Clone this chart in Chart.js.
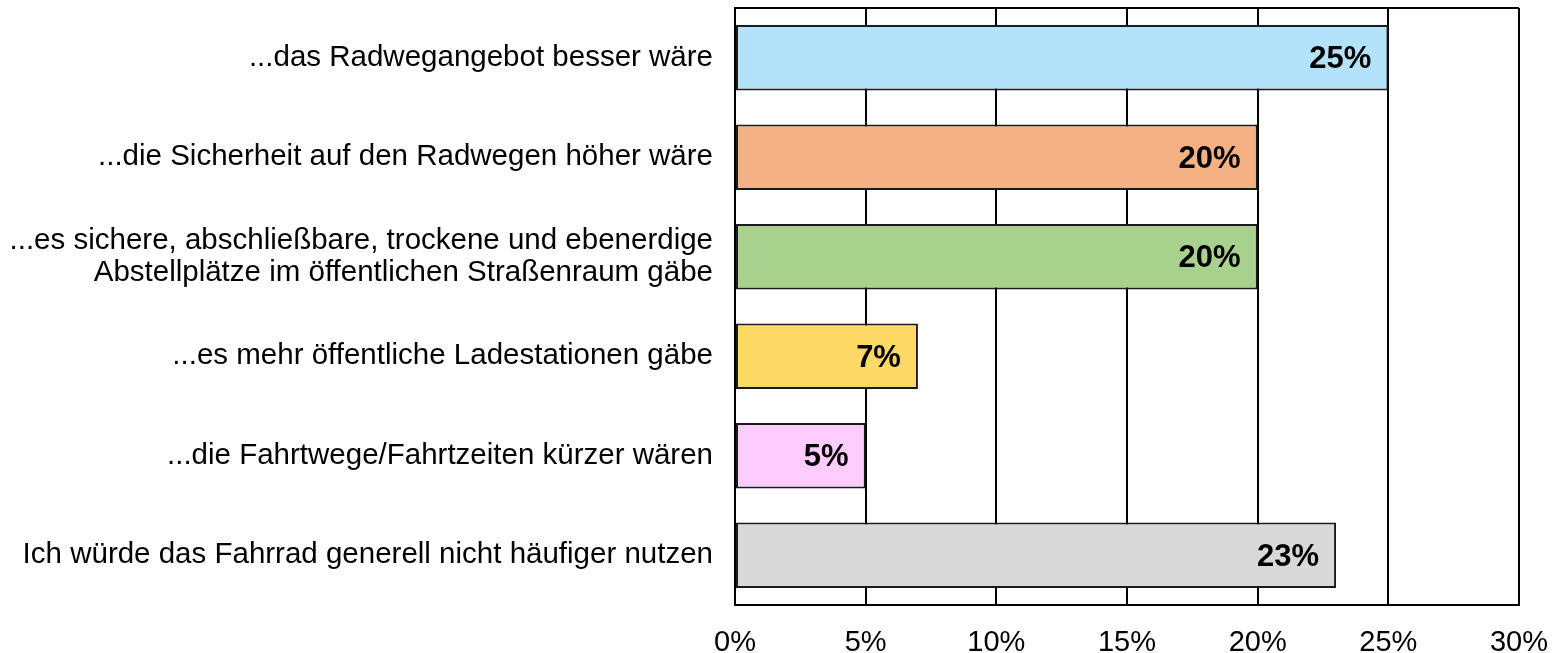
<!DOCTYPE html>
<html lang="de">
<head>
    <meta charset="UTF-8">
    <title>Fahrradnutzung</title>
    <script src="https://cdn.jsdelivr.net/npm/chart.js"></script>
    <style>
        html, body { margin: 0; padding: 0; background: #fff; }
        .chart-container { width: 1552px; height: 653px; }
    </style>
</head>
<body>
    <div class="chart-container">
        <canvas id="myChart"></canvas>
    </div>
    <script>
        const categories = [
            '...das Radwegangebot besser wäre',
            '...die Sicherheit auf den Radwegen höher wäre',
            ['...es sichere, abschließbare, trockene und ebenerdige', 'Abstellplätze im öffentlichen Straßenraum gäbe'],
            '...es mehr öffentliche Ladestationen gäbe',
            '...die Fahrtwege/Fahrtzeiten kürzer wären',
            'Ich würde das Fahrrad generell nicht häufiger nutzen'
        ];
        const values = [25, 20, 20, 7, 5, 23];
        const barColors = ['#B3E3FB', '#F4B183', '#A9D18E', '#FFD966', '#FFCCFF', '#D9D9D9'];
        const xTicks = [0, 5, 10, 15, 20, 25, 30];

        const fontFamily = '"Liberation Sans", Arial, sans-serif';

        // value labels at the inner end of each bar + top frame line
        const barLabels = {
            id: 'barLabels',
            afterDatasetsDraw(chart) {
                const ctx = chart.ctx;
                const meta = chart.getDatasetMeta(0);
                ctx.save();
                ctx.font = 'bold 31px ' + fontFamily;
                ctx.fillStyle = '#000';
                ctx.textAlign = 'right';
                ctx.textBaseline = 'middle';
                meta.data.forEach((bar, i) => {
                    ctx.fillText(values[i] + '%', bar.x - 17, bar.y + 2);
                });
                const a = chart.chartArea;
                ctx.strokeStyle = '#000';
                ctx.lineWidth = 2;
                ctx.beginPath();
                ctx.moveTo(a.left, a.top);
                ctx.lineTo(a.right, a.top);
                ctx.stroke();
                ctx.restore();
            }
        };

        // no extra room for overhanging tick labels
        function noPadding(scale) {
            scale.paddingTop = 0;
            scale.paddingBottom = 0;
            scale.paddingLeft = 0;
            scale.paddingRight = 0;
        }

        const myChart = new Chart(document.getElementById('myChart'), {
            type: 'bar',
            data: {
                labels: categories,
                datasets: [{
                    data: values,
                    backgroundColor: barColors,
                    borderColor: '#1a1a1a',
                    borderWidth: 2,
                    borderSkipped: false,
                    barPercentage: 0.66,
                    categoryPercentage: 1
                }]
            },
            options: {
                indexAxis: 'y',
                responsive: true,
                maintainAspectRatio: false,
                animation: false,
                layout: { padding: { top: 8, right: 33, left: 0, bottom: 0 } },
                plugins: {
                    legend: { display: false },
                    tooltip: { enabled: false }
                },
                scales: {
                    x: {
                        min: 0,
                        max: 30,
                        afterBuildTicks: (scale) => {
                            scale.ticks = xTicks.map(v => ({ value: v }));
                        },
                        afterFit: (scale) => { scale.height = 48; noPadding(scale); },
                        ticks: {
                            callback: (v) => v + '%',
                            color: '#000',
                            font: { family: fontFamily, size: 29 },
                            padding: 21,
                            maxRotation: 0
                        },
                        grid: {
                            color: '#000',
                            lineWidth: 2,
                            drawTicks: false
                        },
                        border: { display: true, color: '#000', width: 2 }
                    },
                    y: {
                        afterFit: (scale) => { scale.width = 735; noPadding(scale); },
                        ticks: {
                            color: '#000',
                            font: { family: fontFamily, size: 29.5, lineHeight: 1.1 },
                            padding: 22
                        },
                        grid: { display: false, drawTicks: false },
                        border: { display: true, color: '#000', width: 2 }
                    }
                }
            },
            plugins: [barLabels]
        });
    </script>
</body>
</html>
